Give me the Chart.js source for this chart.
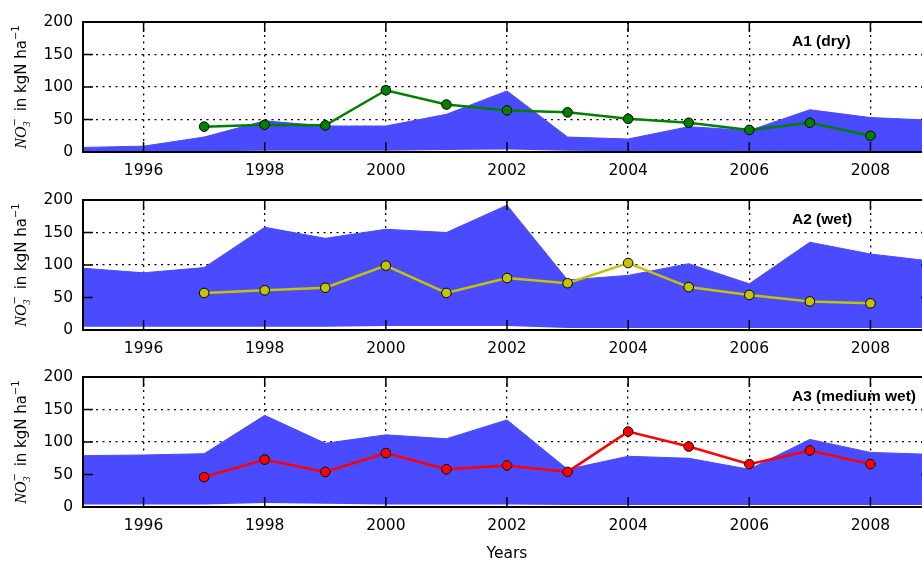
<!DOCTYPE html>
<html>
<head>
<meta charset="utf-8">
<script src="https://cdn.jsdelivr.net/npm/chart.js@4.4.1/dist/chart.umd.min.js"></script>
<style>
    body { margin: 0; background: #fff; overflow: hidden; width: 922px; height: 561px; position: relative; }
    .panel { position: absolute; left: 0; }
    .panel canvas { display: block; }
</style>
</head>
<body>
<div class="panel" style="top:2px"><canvas id="chartA1" width="940" height="180"></canvas></div>
<div class="panel" style="top:180px"><canvas id="chartA2" width="940" height="180"></canvas></div>
<div class="panel" style="top:357px"><canvas id="chartA3" width="940" height="206"></canvas></div>
<script>
// years of the shaded range and of the measured line
var bandYears = [1995, 1996, 1997, 1998, 1999, 2000, 2001, 2002, 2003, 2004, 2005, 2006, 2007, 2008, 2009];
var lineYears = [1997, 1998, 1999, 2000, 2001, 2002, 2003, 2004, 2005, 2006, 2007, 2008];
var xTicks = [1996, 1998, 2000, 2002, 2004, 2006, 2008];
var yTicks = [0, 50, 100, 150, 200];

// A1 (dry)
var a1Lower = [1, 1, 1, 2, 2, 2, 3, 4, 2, 1, 1, 1, 1, 1, 1];
var a1Upper = [7, 9, 23, 48, 40, 40, 58, 94, 23, 20, 39, 33, 65, 53, 49];
var a1Values = [39, 42, 41, 95, 73, 64, 61, 51, 45, 34, 45, 25];

// A2 (wet)
var a2Lower = [5, 5, 5, 5, 5, 6, 6, 6, 3, 3, 3, 3, 3, 3, 3];
var a2Upper = [95, 88, 96, 158, 141, 155, 150, 192, 77, 84, 102, 71, 135, 117, 106];
var a2Values = [57, 61, 65, 99, 57, 80, 72, 103, 66, 54, 44, 41];

// A3 (medium wet)
var a3Lower = [4, 4, 4, 6, 5, 4, 4, 4, 3, 3, 3, 3, 3, 3, 3];
var a3Upper = [79, 80, 82, 141, 98, 111, 105, 134, 58, 78, 75, 58, 104, 84, 81];
var a3Values = [46, 73, 54, 83, 58, 64, 54, 116, 93, 66, 87, 66];

var bandColor = '#4a4aff';

function toPoints(xs, ys) {
    return xs.map(function (x, i) { return { x: x, y: ys[i] }; });
}

function drawYTitle(ctx, cx, cy) {
    var mainSerif = 'italic 16px "Liberation Serif"';
    var small = '10px "DejaVu Sans"';
    var smallSerif = 'italic 10px "Liberation Serif"';
    var mainSans = '15px "DejaVu Sans"';
    ctx.save();
    ctx.translate(cx, cy);
    ctx.rotate(-Math.PI / 2);
    ctx.fillStyle = '#000';
    ctx.textBaseline = 'alphabetic';
    ctx.textAlign = 'left';

    ctx.font = mainSerif; var wNO = ctx.measureText('NO').width;
    ctx.font = smallSerif; var w3 = ctx.measureText('3').width;
    ctx.font = small; var wMinus = ctx.measureText('\u2212').width;
    var wSub = Math.max(w3, wMinus) + 2;
    ctx.font = mainSans; var wText = ctx.measureText(' in kgN ha').width;
    ctx.font = small; var wExp = ctx.measureText('\u22121').width;
    var total = wNO + wSub + wText + wExp;
    var x = -total / 2;
    var base = 6;

    ctx.font = mainSerif; ctx.fillText('NO', x, base); x += wNO;
    ctx.font = smallSerif; ctx.fillText('3', x, base + 4);
    ctx.font = small; ctx.fillText('\u2212', x, base - 8); x += wSub;
    ctx.font = mainSans; ctx.fillText(' in kgN ha', x, base); x += wText;
    ctx.font = small; ctx.fillText('\u22121', x, base - 7);
    ctx.restore();
}

// frame, inward tick marks, panel title and y title
var framePlugin = {
    id: 'frame',
    afterDraw: function (chart, args, opts) {
        var ctx = chart.ctx, a = chart.chartArea;
        var xs = chart.scales.x, ys = chart.scales.y;
        ctx.save();
        ctx.strokeStyle = '#000';
        ctx.lineWidth = 1.5;
        ctx.beginPath();
        xTicks.forEach(function (t) {
            var px = xs.getPixelForValue(t);
            ctx.moveTo(px, a.bottom); ctx.lineTo(px, a.bottom - 10);
            ctx.moveTo(px, a.top); ctx.lineTo(px, a.top + 10);
        });
        yTicks.forEach(function (t) {
            var py = ys.getPixelForValue(t);
            ctx.moveTo(a.left, py); ctx.lineTo(a.left + 10, py);
            ctx.moveTo(a.right, py); ctx.lineTo(a.right - 10, py);
        });
        ctx.stroke();
        ctx.lineWidth = 2;
        ctx.strokeRect(a.left, a.top, a.right - a.left, a.bottom - a.top);

        ctx.fillStyle = '#000';
        ctx.font = 'bold 15.5px "Liberation Sans"';
        ctx.textAlign = 'left';
        ctx.textBaseline = 'middle';
        ctx.fillText(opts.title, 792, a.top + 20);
        ctx.restore();

        drawYTitle(ctx, 20, (a.top + a.bottom) / 2);
    }
};

function makePanel(canvasId, lower, upper, values, color, title, axisHeight, showYears) {
    var tickFont = { family: 'DejaVu Sans', size: 15.5 };
    new Chart(document.getElementById(canvasId), {
        type: 'line',
        data: {
            datasets: [
                {
                    data: toPoints(bandYears, lower),
                    borderColor: 'rgba(0,0,0,0)',
                    borderWidth: 0,
                    pointRadius: 0,
                    fill: false,
                    order: 2
                },
                {
                    data: toPoints(bandYears, upper),
                    borderColor: bandColor,
                    borderWidth: 1,
                    backgroundColor: bandColor,
                    pointRadius: 0,
                    fill: '-1',
                    order: 1
                },
                {
                    data: toPoints(lineYears, values),
                    borderColor: color,
                    borderWidth: 2.5,
                    pointRadius: 4.8,
                    pointBackgroundColor: color,
                    pointBorderColor: '#000',
                    pointBorderWidth: 1,
                    fill: false,
                    order: 0
                }
            ]
        },
        options: {
            responsive: false,
            animation: false,
            events: [],
            elements: { line: { tension: 0 } },
            layout: { padding: { top: 20, right: 9, left: 0, bottom: 0 } },
            plugins: {
                legend: { display: false },
                tooltip: { enabled: false },
                frame: { title: title }
            },
            scales: {
                x: {
                    type: 'linear',
                    min: 1995,
                    max: 2009,
                    z: 1,
                    afterBuildTicks: function (s) {
                        s.ticks = xTicks.map(function (v) { return { value: v }; });
                    },
                    afterFit: function (s) { s.height = axisHeight; },
                    grid: { color: '#000', lineWidth: 1.3, drawTicks: false },
                    border: { display: false, dash: [2, 4.5] },
                    ticks: {
                        color: '#000',
                        font: tickFont,
                        padding: 10,
                        maxRotation: 0,
                        callback: function (v) { return String(v); }
                    },
                    title: {
                        display: showYears,
                        text: 'Years',
                        color: '#000',
                        font: tickFont,
                        padding: { top: 4, bottom: 0 }
                    }
                },
                y: {
                    min: 0,
                    max: 200,
                    z: 1,
                    afterBuildTicks: function (s) {
                        s.ticks = yTicks.map(function (v) { return { value: v }; });
                    },
                    afterFit: function (s) { s.width = 83; },
                    grid: { color: '#000', lineWidth: 1.3, drawTicks: false },
                    border: { display: false, dash: [2, 4.5] },
                    ticks: { color: '#000', font: tickFont, padding: 10 }
                }
            }
        },
        plugins: [framePlugin]
    });
}

makePanel('chartA1', a1Lower, a1Upper, a1Values, '#008000', 'A1 (dry)', 30, false);
makePanel('chartA2', a2Lower, a2Upper, a2Values, '#c4c400', 'A2 (wet)', 30, false);
makePanel('chartA3', a3Lower, a3Upper, a3Values, '#ff0000', 'A3 (medium wet)', 56, true);
</script>
</body>
</html>
